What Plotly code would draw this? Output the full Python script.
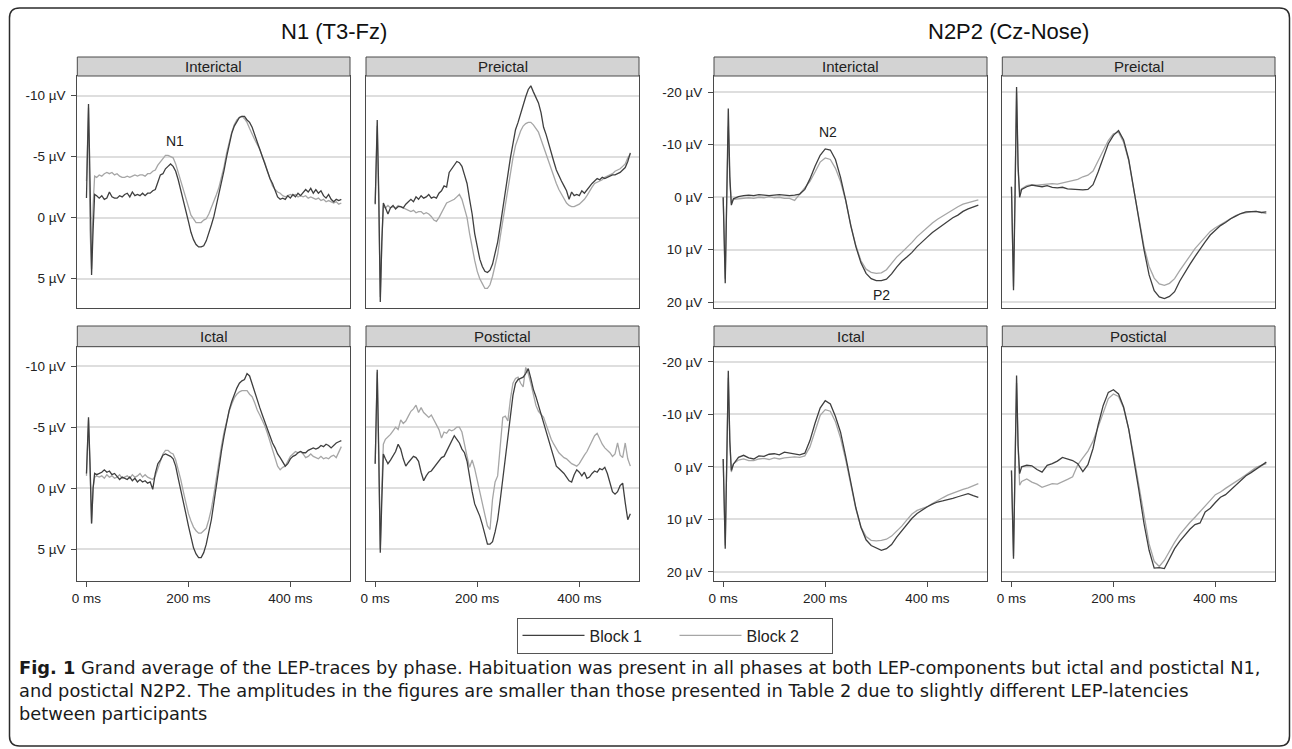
import plotly.graph_objects as go

W, H = 1292, 749

# ---------------- data ----------------
T_N1 = [0, 2, 4, 7, 10, 13, 16, 20] + list(range(25, 501, 5))
T_N2 = [0, 2, 4, 7, 10, 13, 16, 20] + list(range(30, 501, 10))

n1_inter_b1 = [
    -1.6, -6.0, -9.3, -3.0, 4.7, 1.0, -1.9, -1.8,
    -1.6, -1.8, -1.5, -1.6, -2.1, -1.7, -1.6, -1.6, -1.8, -1.7,
    -1.9, -2.0, -1.7, -2.1, -1.8, -1.9, -1.8, -2.0, -1.8, -2.0,
    -2.0, -2.2, -2.3, -2.9, -3.5, -3.6, -4.0, -4.2, -4.4, -4.2,
    -3.8, -3.1, -2.3, -1.5, -0.6, 0.3, 1.2, 1.8, 2.2, 2.4,
    2.4, 2.3, 1.9, 1.3, 0.6, -0.1, -1.0, -1.9, -2.9, -3.9,
    -5.0, -6.0, -6.9, -7.5, -7.9, -8.2, -8.3, -8.3, -8.0, -7.8,
    -7.4, -6.8, -6.2, -5.6, -4.9, -4.3, -3.7, -3.2, -2.8, -2.2,
    -1.7, -1.5, -1.6, -1.5, -1.8, -1.6, -1.9, -1.7, -2.0, -1.8,
    -2.1, -2.3, -2.1, -2.4, -2.0, -2.3, -2.0, -2.2, -1.8, -1.6,
    -1.9, -1.5, -1.3, -1.5, -1.4, -1.5]
n1_inter_b2 = [
    -3.0, -7.0, -9.0, 1.0, 4.2, -1.0, -3.4, -3.3,
    -3.5, -3.4, -3.6, -3.7, -3.6, -3.7, -3.5, -3.6, -3.4, -3.3,
    -3.3, -3.4, -3.3, -3.4, -3.5, -3.4, -3.5, -3.5, -3.4, -3.6,
    -3.6, -3.8, -3.9, -4.3, -4.6, -4.9, -5.1, -5.1, -5.0, -4.9,
    -4.4, -3.7, -3.0, -2.2, -1.5, -0.9, -0.2, 0.1, 0.4, 0.4,
    0.4, 0.2, 0.1, -0.3, -0.8, -1.3, -1.9, -2.5, -3.3, -4.2,
    -5.3, -6.2, -7.0, -7.6, -8.0, -8.2, -8.3, -8.1, -7.8, -7.3,
    -6.8, -6.4, -6.0, -5.6, -5.0, -4.5, -3.8, -3.2, -2.6, -2.3,
    -2.1, -2.0, -1.8, -1.7, -1.8, -1.9, -1.8, -1.9, -1.7, -1.8,
    -1.7, -1.8, -1.6, -1.7, -1.6, -1.5, -1.6, -1.4, -1.5, -1.3,
    -1.4, -1.3, -1.2, -1.3, -1.1, -1.2]

n1_pre_b1 = [
    -1.1, -5.0, -8.0, -2.0, 6.9, 2.0, -1.2, -0.8,
    -0.3, -0.8, -1.0, -0.7, -0.9, -0.9, -0.8, -1.1, -1.3, -1.5,
    -1.3, -1.7, -1.5, -1.8, -1.6, -1.7, -1.9, -1.6, -1.7, -1.6,
    -2.0, -2.2, -2.6, -2.5, -3.7, -4.0, -4.4, -4.6, -4.5, -4.2,
    -3.5, -2.8, -1.5, -0.3, 1.3, 2.5, 3.4, 4.0, 4.4, 4.5,
    4.3, 3.8, 3.0, 2.0, 0.7, -0.6, -2.1, -3.5, -4.9, -6.1,
    -7.2, -7.8, -8.5, -9.4, -9.9, -10.5, -10.8, -10.3, -9.9, -9.4,
    -8.6, -7.4, -6.8, -6.0, -5.3, -4.6, -3.9, -3.4, -3.0, -2.6,
    -2.2, -1.5, -2.1, -1.8, -1.9, -1.8, -2.2, -2.0, -2.3, -2.6,
    -2.8, -3.0, -3.2, -3.1, -3.3, -3.2, -3.3, -3.4, -3.5, -3.5,
    -3.6, -3.7, -3.9, -4.1, -4.6, -5.3]
n1_pre_b2 = [
    -1.2, -4.5, -7.5, -1.0, 6.5, 2.0, -0.9, -0.8,
    -1.0, -0.8, -0.9, -0.8, -1.0, -0.9, -0.8, -0.7, -0.6, -0.5,
    -0.6, -0.4, -0.5, -0.5, -0.3, -0.4, -0.3, -0.1, 0.2, 0.3,
    0.0, -0.4, -0.8, -1.2, -1.3, -1.4, -1.5, -1.7, -1.9, -1.5,
    -0.8, 0.0, 1.3, 2.5, 3.5, 4.4, 5.0, 5.4, 5.8, 5.8,
    5.5, 4.8, 3.9, 3.0, 1.6, 0.3, -1.2, -2.4, -3.6, -4.9,
    -5.9, -6.6, -7.1, -7.5, -7.7, -7.8, -7.8, -7.6, -7.3, -7.0,
    -6.4, -5.8, -5.2, -4.5, -3.9, -3.3, -2.8, -2.3, -1.9, -1.5,
    -1.2, -1.0, -0.9, -0.9, -1.0, -1.1, -1.3, -1.5, -1.8, -2.2,
    -2.5, -2.8, -2.9, -3.0, -3.1, -3.3, -3.4, -3.5, -3.6, -3.8,
    -3.9, -4.0, -4.2, -4.4, -4.9, -5.2]

n1_ict_b1 = [
    -1.2, -4.0, -5.8, -2.0, 2.9, 0.0, -1.2, -1.1,
    -1.2, -1.3, -1.5, -1.3, -1.4, -1.1, -1.2, -0.9, -0.7, -0.9,
    -0.8, -0.7, -0.9, -0.6, -0.8, -0.5, -0.7, -0.5, -0.6, -0.4,
    -0.5, 0.1, -1.2, -2.0, -2.3, -2.7, -2.8, -2.7, -2.6, -2.4,
    -1.8, -0.8, 0.1, 1.0, 2.1, 3.1, 4.0, 4.9, 5.4, 5.7,
    5.7, 5.3, 4.6, 3.7, 2.6, 1.2, -0.3, -1.7, -3.1, -4.3,
    -5.5, -6.4, -7.1, -7.7, -8.2, -8.6, -8.8, -8.9, -9.4, -9.2,
    -8.5, -7.9, -7.3, -6.6, -6.0, -5.4, -4.8, -4.2, -3.7, -3.3,
    -2.8, -2.5, -2.1, -1.8, -2.0, -2.4, -2.6, -2.7, -2.9, -3.0,
    -2.9, -2.9, -3.1, -3.2, -3.3, -3.2, -3.3, -3.5, -3.4, -3.6,
    -3.5, -3.3, -3.5, -3.7, -3.8, -3.9]
n1_ict_b2 = [
    -1.0, -4.0, -5.6, -1.5, 2.9, 0.0, -0.9, -1.0,
    -0.9, -1.0, -0.8, -1.1, -0.9, -1.0, -0.8, -0.9, -1.1, -0.8,
    -0.9, -1.0, -0.8, -1.1, -0.9, -1.0, -1.2, -0.9, -1.1, -0.9,
    -0.8, -0.7, -1.0, -1.6, -2.3, -2.8, -3.1, -3.1, -2.9, -2.8,
    -2.3, -1.6, -0.7, 0.3, 1.3, 2.1, 2.7, 3.2, 3.5, 3.7,
    3.7, 3.5, 3.3, 2.6, 1.7, 0.5, -0.9, -2.3, -3.5, -4.6,
    -5.5, -6.3, -6.9, -7.4, -7.7, -7.9, -8.0, -8.0, -8.0, -7.7,
    -7.5, -7.0, -6.4, -6.0, -5.6, -5.1, -4.5, -3.8, -3.0, -2.3,
    -1.8, -1.5, -1.7, -1.8, -2.2, -2.6, -2.8, -3.0, -2.9, -3.0,
    -2.8, -2.5, -2.6, -2.8, -2.6, -2.5, -2.4, -2.6, -2.4, -2.5,
    -2.4, -2.6, -2.7, -2.5, -2.9, -3.4]

n1_post_b1 = [
    -2.0, -6.0, -9.7, -3.0, 5.3, 1.0, -2.8, -2.4,
    -2.0, -2.3, -2.6, -3.0, -3.6, -3.2, -2.4, -1.8, -2.1, -2.4,
    -2.6, -2.5, -2.2, -1.3, -0.6, -1.0, -1.3, -1.4, -1.7, -2.0,
    -2.2, -2.5, -2.6, -3.0, -3.5, -3.8, -4.3, -4.0, -3.7, -3.2,
    -2.9, -2.2, -0.8, 0.3, 1.3, 1.8, 2.3, 3.0, 3.9, 4.6,
    4.6, 4.4, 3.6, 2.6, 1.0, -0.7, -2.6, -4.4, -6.2, -7.6,
    -8.6, -8.9, -9.0, -9.1, -9.4, -9.8, -9.0, -8.1, -7.5, -6.8,
    -5.9, -5.2, -4.5, -3.9, -3.2, -2.6, -1.8, -1.6, -1.4, -1.2,
    -0.9, -0.6, -0.5, -1.1, -1.5, -1.3, -1.0, -1.3, -0.8, -0.9,
    -1.2, -1.4, -1.3, -1.6, -1.5, -1.7, -1.2, -0.4, 0.3, 0.5,
    0.3, -0.2, -0.4, 1.2, 2.6, 2.1]
n1_post_b2 = [
    -2.0, -6.0, -9.5, -2.0, 5.0, 0.0, -3.6, -4.0,
    -4.2, -4.4, -4.7, -5.0, -4.8, -5.6, -5.3, -5.5, -5.9, -6.3,
    -6.5, -6.8, -6.2, -6.6, -6.2, -6.0, -5.8, -6.0, -5.6, -5.3,
    -4.8, -4.1, -4.6, -4.5, -4.8, -4.7, -4.8, -5.0, -5.0, -4.6,
    -3.5, -2.6, -1.7, -2.3, -1.6, -0.6, 0.3, 1.2, 2.2, 3.1,
    3.4, 0.9, -0.5, -1.0, -3.5, -5.8, -5.9, -5.5, -7.3, -8.6,
    -9.0, -9.1, -8.6, -8.3, -9.9, -9.4, -8.6, -7.6, -6.8, -6.3,
    -6.0, -5.8, -5.2, -4.5, -4.0, -3.6, -3.2, -2.9, -2.7, -2.5,
    -2.4, -2.2, -2.0, -1.9, -1.8, -2.0, -2.4, -2.7, -3.0, -3.4,
    -3.9, -4.3, -4.5, -4.0, -3.6, -3.3, -3.1, -2.9, -2.6, -2.8,
    -3.7, -2.7, -2.5, -3.7, -2.4, -1.8]

n2_inter_b1 = [
    0.0, 8.0, 16.4, 0.0, -16.9, -4.0, 1.5, 0.3,
    -0.1, -0.3, -0.4, -0.3, -0.5, -0.4, -0.3, -0.4, -0.5, -0.4,
    -0.3, -0.4, -0.6, -1.5, -3.5, -5.9, -8.0, -9.2, -9.0, -7.2,
    -3.8, 0.5, 5.4, 9.4, 12.5, 14.5, 15.5, 15.9, 15.9, 15.6,
    14.6, 13.3, 12.2, 11.4, 10.5, 9.4, 8.4, 7.6, 6.7, 6.0,
    5.2, 4.6, 3.9, 3.4, 2.7, 2.2, 1.8, 1.5]
n2_inter_b2 = [
    0.0, 7.5, 15.5, 0.0, -13.5, -3.0, 1.2, 0.4,
    0.3, 0.2, 0.1, 0.2, 0.0, 0.1, -0.1, 0.1, 0.0, 0.2,
    0.2, 0.6, -0.6, -1.6, -3.0, -4.8, -6.7, -7.5, -7.2, -5.5,
    -3.0, 0.6, 5.3, 9.2, 12.1, 13.7, 14.3, 14.5, 14.4, 13.8,
    12.5, 11.4, 10.5, 9.6, 8.6, 7.5, 6.6, 5.7, 4.9, 4.2,
    3.6, 3.0, 2.3, 1.8, 1.3, 1.0, 0.7, 0.5]

n2_pre_b1 = [
    -2.0, 9.0, 17.7, 0.0, -21.0, -6.0, 0.0, -1.5,
    -2.0, -2.3, -2.1, -2.0, -2.2, -1.9, -1.8, -1.9, -1.6, -1.5,
    -1.5, -1.4, -1.5, -2.4, -4.8, -7.6, -10.2, -11.8, -12.7, -10.9,
    -7.2, -1.5, 4.6, 10.0, 14.8, 17.8, 19.0, 19.3, 18.9, 18.0,
    16.0, 14.3, 12.8, 11.3, 9.8, 8.5, 7.2, 6.2, 5.4, 4.8,
    4.1, 3.6, 3.1, 2.8, 2.8, 2.7, 2.9, 2.8]
n2_pre_b2 = [
    -2.0, 8.5, 17.0, -2.0, -20.0, -5.0, -1.0, -1.6,
    -2.2, -2.4, -2.3, -2.4, -2.5, -2.6, -2.5, -2.7, -2.9, -3.1,
    -3.4, -3.9, -4.2, -5.0, -6.9, -8.9, -10.8, -12.1, -12.4, -10.5,
    -7.0, -1.4, 4.2, 9.4, 13.2, 15.4, 16.5, 16.8, 16.4, 15.5,
    14.0, 12.6, 11.1, 9.8, 8.7, 7.6, 6.5, 5.8, 5.2, 4.6,
    4.0, 3.5, 3.1, 2.9, 2.8, 2.7, 2.9, 3.1]

n2_ict_b1 = [
    -1.5, 7.0, 15.6, -1.0, -18.3, -5.0, 0.7, -0.5,
    -1.8, -2.2, -1.7, -1.5, -2.1, -2.0, -2.4, -2.5, -2.3, -2.8,
    -2.6, -2.5, -2.3, -2.6, -5.0, -8.3, -11.2, -12.6, -12.0, -9.6,
    -6.6, -2.0, 3.0, 7.8, 11.5, 13.9, 15.0, 15.5, 15.9, 15.6,
    14.8, 13.4, 12.2, 10.9, 9.8, 8.9, 8.2, 7.6, 7.1, 6.7,
    6.5, 6.3, 6.0, 5.7, 5.4, 5.1, 5.5, 5.8]
n2_ict_b2 = [
    -1.5, 7.0, 15.0, -1.0, -17.0, -4.5, 1.0, -0.6,
    -1.3, -1.5, -1.2, -1.2, -1.5, -1.6, -1.4, -1.7, -1.5, -1.7,
    -1.8, -1.9, -1.8, -2.1, -3.8, -7.0, -9.8, -10.9, -10.6, -8.6,
    -5.5, -1.4, 3.2, 8.0, 11.5, 13.3, 14.0, 14.1, 14.0, 13.8,
    13.2, 12.3, 11.3, 10.1, 9.0, 8.3, 7.9, 7.6, 7.0, 6.4,
    5.9, 5.4, 5.0, 4.7, 4.3, 4.0, 3.6, 3.2]

n2_post_b1 = [
    0.7, 9.0, 17.5, 0.0, -17.4, -4.0, 1.3, 0.0,
    -0.3, -0.2, 0.5, 1.0, -0.3, -0.6, -1.1, -1.8, -1.5, -1.2,
    -0.6, 0.9, -0.4, -3.5, -8.0, -11.7, -14.2, -14.7, -13.9, -11.4,
    -7.2, -1.5, 4.5, 10.8, 15.9, 19.3, 19.2, 19.4, 17.5, 15.6,
    14.2, 13.0, 11.9, 11.0, 10.7, 8.6, 7.9, 6.8, 5.8, 5.3,
    4.4, 3.6, 2.6, 1.7, 1.1, 0.4, -0.3, -0.9]
n2_post_b2 = [
    0.7, 9.0, 17.0, 0.0, -16.0, -4.0, 3.5, 2.8,
    2.3, 2.9, 3.3, 3.9, 3.6, 3.2, 3.3, 2.9, 2.4, 1.9,
    -0.4, -1.7, -3.0, -4.9, -7.6, -10.7, -13.0, -13.9, -13.4, -11.2,
    -7.2, -2.0, 3.6, 9.8, 14.7, 18.0, 19.0, 17.8, 16.0, 14.4,
    12.9, 11.7, 10.6, 9.6, 8.6, 7.5, 6.4, 5.3, 4.8, 4.1,
    3.5, 2.9, 2.2, 1.5, 0.8, 0.1, -0.3, -0.6]

phases = ["Interictal", "Preictal", "Ictal", "Postictal"]
group_titles = ["N1 (T3-Fz)", "N2P2 (Cz-Nose)"]
series_names = ["Block 1", "Block 2"]
n1_tickvals = [-10, -5, 0, 5]
n1_ticktext = ["-10 µV", "-5 µV", "0 µV", "5 µV"]
n2_tickvals = [-20, -10, 0, 10, 20]
n2_ticktext = ["-20 µV", "-10 µV", "0 µV", "10 µV", "20 µV"]
x_tickvals = [0, 200, 400]
x_ticktext = ["0 ms", "200 ms", "400 ms"]

# ---------------- layout geometry (pixels) ----------------
COLS = {1: (77.3, 350.0), 2: (366.0, 639.0), 3: (714.0, 987.0), 4: (1002.3, 1275.0)}
ROWS = {1: (76.0, 308.0), 2: (346.7, 580.7)}
HEAD_TOP = {1: 57.0, 2: 326.0}
C_B1 = "#3f3f3f"
C_B2 = "#a6a6a6"
FRAME = "#4a4a4a"
FONT = "Liberation Sans, Arial, sans-serif"


def px(x):
    return x / W


def py(y):
    return 1 - y / H


panels = [
    # phase, col, row, T, b1, b2, family
    (phases[0], 1, 1, T_N1, n1_inter_b1, n1_inter_b2, "n1"),
    (phases[1], 2, 1, T_N1, n1_pre_b1, n1_pre_b2, "n1"),
    (phases[2], 1, 2, T_N1, n1_ict_b1, n1_ict_b2, "n1"),
    (phases[3], 2, 2, T_N1, n1_post_b1, n1_post_b2, "n1"),
    (phases[0], 3, 1, T_N2, n2_inter_b1, n2_inter_b2, "n2"),
    (phases[1], 4, 1, T_N2, n2_pre_b1, n2_pre_b2, "n2"),
    (phases[2], 3, 2, T_N2, n2_ict_b1, n2_ict_b2, "n2"),
    (phases[3], 4, 2, T_N2, n2_post_b1, n2_post_b2, "n2"),
]
YRANGE = {("n1", 1): [7.4, -11.6], ("n1", 2): [7.6, -11.6],
          ("n2", 1): [21.1, -23.1], ("n2", 2): [21.7, -22.9]}

fig = go.Figure()
layout = dict(
    width=W, height=H, margin=dict(l=0, r=0, t=0, b=0, autoexpand=False),
    paper_bgcolor="white", plot_bgcolor="white",
    font=dict(family=FONT, color="#222222"),
)
shapes = []
annotations = []

for i, (phase, col, row, T, b1, b2, fam) in enumerate(panels):
    for v in (b1, b2):
        if len(v) != len(T):
            raise ValueError(f"panel {i} length {len(v)} vs {len(T)}")
    k = "" if i == 0 else str(i + 1)
    xa, ya = "x" + k, "y" + k
    x0, x1 = COLS[col]
    y0, y1 = ROWS[row]
    fig.add_trace(go.Scatter(x=T, y=b2, mode="lines", name=series_names[1],
                             line=dict(color=C_B2, width=1.3), xaxis=xa, yaxis=ya,
                             legendgroup="b2", showlegend=(i == 0), legendrank=2))
    fig.add_trace(go.Scatter(x=T, y=b1, mode="lines", name=series_names[0],
                             line=dict(color=C_B1, width=1.3), xaxis=xa, yaxis=ya,
                             legendgroup="b1", showlegend=(i == 0), legendrank=1))
    left = col in (1, 3)
    bottom = row == 2
    layout["xaxis" + k] = dict(
        domain=[px(x0), px(x1)], anchor=ya, range=[-18, 517],
        showgrid=False, zeroline=False, showline=True, mirror=True,
        linecolor=FRAME, linewidth=1,
        tickvals=x_tickvals, ticktext=x_ticktext,
        ticks="outside" if bottom else "", ticklen=5, tickcolor=FRAME,
        showticklabels=bottom, tickfont=dict(size=13.5, family=FONT, color="#222"),
    )
    tv = n1_tickvals if fam == "n1" else n2_tickvals
    tt = n1_ticktext if fam == "n1" else n2_ticktext
    layout["yaxis" + k] = dict(
        domain=[py(y1), py(y0)], anchor=xa, range=YRANGE[(fam, row)],
        showgrid=True, gridcolor="#dedede", gridwidth=1.5, zeroline=False,
        showline=True, mirror=True, linecolor=FRAME, linewidth=1,
        tickvals=tv, ticktext=tt,
        ticks="outside" if left else "", ticklen=5, tickcolor=FRAME,
        ticklabelstandoff=3,
        showticklabels=left, tickfont=dict(size=13.5, family=FONT, color="#222"),
    )
    # strip header
    shapes.append(dict(type="rect", xref="paper", yref="paper",
                       x0=px(x0), x1=px(x1), y0=py(y0), y1=py(HEAD_TOP[row]),
                       fillcolor="#d3d3d3", line=dict(color=FRAME, width=1), layer="above"))
    annotations.append(dict(text=phase, xref="paper", yref="paper",
                            x=px((x0 + x1) / 2), y=py((HEAD_TOP[row] + y0) / 2),
                            xanchor="center", yanchor="middle", showarrow=False,
                            font=dict(size=15, family=FONT, color="#222")))

# component labels
annotations.append(dict(text="N1", xref="x", yref="y", x=173, y=-6.3, showarrow=False,
                        font=dict(size=14, family=FONT, color="#222")))
annotations.append(dict(text="N2", xref="x5", yref="y5", x=205, y=-12.4, showarrow=False,
                        font=dict(size=14, family=FONT, color="#222")))
annotations.append(dict(text="P2", xref="x5", yref="y5", x=310, y=18.7, showarrow=False,
                        font=dict(size=14, family=FONT, color="#222")))

# group titles
annotations.append(dict(text=group_titles[0], xref="paper", yref="paper", x=px(334), y=py(31),
                        xanchor="center", yanchor="middle", showarrow=False,
                        font=dict(size=22, family=FONT, color="#111")))
annotations.append(dict(text=group_titles[1], xref="paper", yref="paper", x=px(1008), y=py(31),
                        xanchor="center", yanchor="middle", showarrow=False,
                        font=dict(size=22, family=FONT, color="#111")))

# caption
cap_lines = [
    "<b>Fig. 1</b> Grand average of the LEP-traces by phase. Habituation was present in all phases at both LEP-components but ictal and postictal N1,",
    "and postictal N2P2. The amplitudes in the figures are smaller than those presented in Table 2 due to slightly different LEP-latencies",
    "between participants",
]
for j, line in enumerate(cap_lines):
    annotations.append(dict(text=line, xref="paper", yref="paper", x=px(17), y=py(667 + 23 * j),
                            xanchor="left", yanchor="middle", showarrow=False, align="left",
                            font=dict(size=17.8, family="DejaVu Sans, sans-serif", color="#1a1a1a")))

# outer rounded frame
bx0, by0, bx1, by1, r = 9.5, 8.0, 1289.5, 746.0, 10.0
pts = [("M", bx0 + r, by0), ("L", bx1 - r, by0), ("Q", bx1, by0, bx1, by0 + r),
       ("L", bx1, by1 - r), ("Q", bx1, by1, bx1 - r, by1), ("L", bx0 + r, by1),
       ("Q", bx0, by1, bx0, by1 - r), ("L", bx0, by0 + r), ("Q", bx0, by0, bx0 + r, by0)]
path = ""
for p in pts:
    cmd, coords = p[0], p[1:]
    segs = []
    for a in range(0, len(coords), 2):
        segs.append(f"{px(coords[a]):.5f},{py(coords[a + 1]):.5f}")
    path += cmd + " ".join(segs) + " "
path += "Z"
shapes.append(dict(type="path", xref="paper", yref="paper", path=path,
                   line=dict(color="#2b2b2b", width=1.5)))

layout["shapes"] = shapes
layout["annotations"] = annotations
layout["showlegend"] = True
layout["legend"] = dict(
    orientation="h", x=px(674.5), y=py(635.5), xanchor="center", yanchor="middle",
    bordercolor="#555", borderwidth=1, bgcolor="white",
    font=dict(size=16, family=FONT, color="#222"),
    itemwidth=62, entrywidth=80, traceorder="normal",
)
fig.update_layout(**layout)
fig.write_html("out.html")
